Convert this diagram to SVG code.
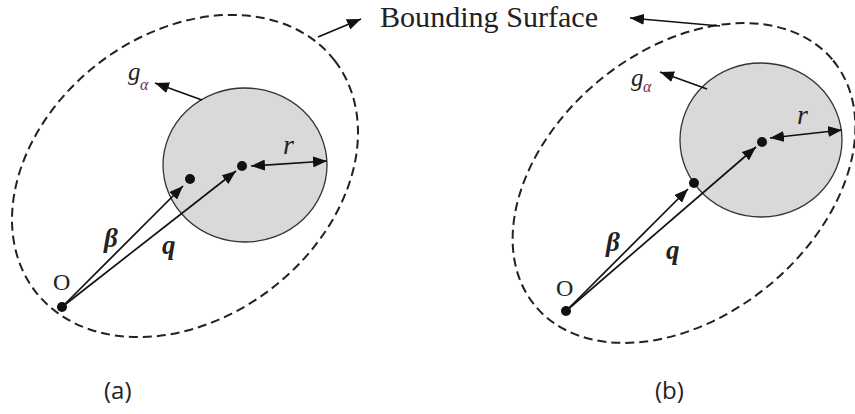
<svg xmlns="http://www.w3.org/2000/svg" width="855" height="414" viewBox="0 0 855 414">
<style>
.bound{fill:none;stroke:#222;stroke-width:2;stroke-dasharray:9 5}
.body{fill:#d9d9d9;stroke:#333;stroke-width:1.3}
.dot{fill:#111}
.arr{fill:none;stroke:#111;stroke-width:1.7;marker-end:url(#ah)}
.darr{fill:none;stroke:#111;stroke-width:1.7;marker-start:url(#ah);marker-end:url(#ah)}
.serif{font-family:"Liberation Serif","Times New Roman",serif;fill:#222}
.vec{font-family:"Liberation Serif","Times New Roman",serif;font-style:italic;font-weight:bold;fill:#222;font-size:27px}
.it{font-family:"Liberation Serif","Times New Roman",serif;font-style:italic;fill:#222}
.sub{font-family:"Liberation Serif","Times New Roman",serif;font-style:italic;fill:#7a2a45;font-size:16px}
.cap{font-family:"Open Sans","Liberation Sans",sans-serif;fill:#222;font-size:24px}
</style>
<defs>
<marker id="ah" markerUnits="userSpaceOnUse" markerWidth="14" markerHeight="11" refX="14" refY="5.5" orient="auto-start-reverse">
<path d="M0,0 L14,5.5 L0,11 z" fill="#111"/>
</marker>
</defs>

<g id="title">
<text class="serif" x="380" y="27" font-size="30" textLength="218" lengthAdjust="spacingAndGlyphs">Bounding Surface</text>
</g>

<!-- Panel (a) -->
<g id="a-boundary"><ellipse class="bound" cx="185" cy="176" rx="189" ry="142" transform="rotate(-37.6 185 176)"/></g>
<g id="a-body"><ellipse class="body" cx="245" cy="165" rx="82" ry="77"/></g>
<g id="a-origin"><circle class="dot" cx="62" cy="307" r="5"/><text class="serif" x="53" y="290" font-size="24">O</text></g>
<g id="a-beta-pt"><circle class="dot" cx="190" cy="179" r="5"/></g>
<g id="a-q-pt"><circle class="dot" cx="242" cy="166" r="5"/></g>
<g id="a-labels">
<text class="vec" x="104" y="247">β</text>
<text class="vec" x="162" y="254">q</text>
<text class="it" x="283" y="154" font-size="28">r</text>
<text class="it" x="128" y="80" font-size="25">g</text><text class="sub" x="140" y="90">α</text>
</g>

<!-- Panel (b) -->
<g id="b-boundary"><ellipse class="bound" cx="684" cy="183" rx="193" ry="133" transform="rotate(-39.4 684 183)"/></g>
<g id="b-body"><ellipse class="body" cx="761" cy="140" rx="81" ry="77"/></g>
<g id="b-origin"><circle class="dot" cx="566" cy="311" r="5"/><text class="serif" x="556" y="296" font-size="24">O</text></g>
<g id="b-beta-pt"><circle class="dot" cx="694" cy="183" r="5"/></g>
<g id="b-q-pt"><circle class="dot" cx="762" cy="142" r="5"/></g>
<g id="b-labels">
<text class="vec" x="606" y="251">β</text>
<text class="vec" x="666" y="259">q</text>
<text class="it" x="797" y="124" font-size="28">r</text>
<text class="it" x="631" y="86" font-size="25">g</text><text class="sub" x="643" y="92">α</text>
</g>

<g id="connectors">
<line class="arr" x1="318" y1="37" x2="361" y2="19"/>
<line class="arr" x1="720" y1="26" x2="630" y2="18"/>
<line class="arr" x1="202" y1="100" x2="155" y2="83"/>
<line class="arr" x1="707" y1="89" x2="660" y2="72"/>
<line class="arr" x1="62" y1="307" x2="183" y2="186"/>
<line class="arr" x1="62" y1="307" x2="236" y2="171"/>
<line class="darr" x1="251" y1="166" x2="327" y2="161"/>
<line class="arr" x1="566" y1="311" x2="688" y2="189"/>
<line class="arr" x1="566" y1="311" x2="756" y2="147"/>
<line class="darr" x1="770" y1="138" x2="842" y2="130"/>
</g>

<g id="captions">
<text class="cap" x="104" y="399">(a)</text>
<text class="cap" x="655" y="399">(b)</text>
</g>
</svg>
